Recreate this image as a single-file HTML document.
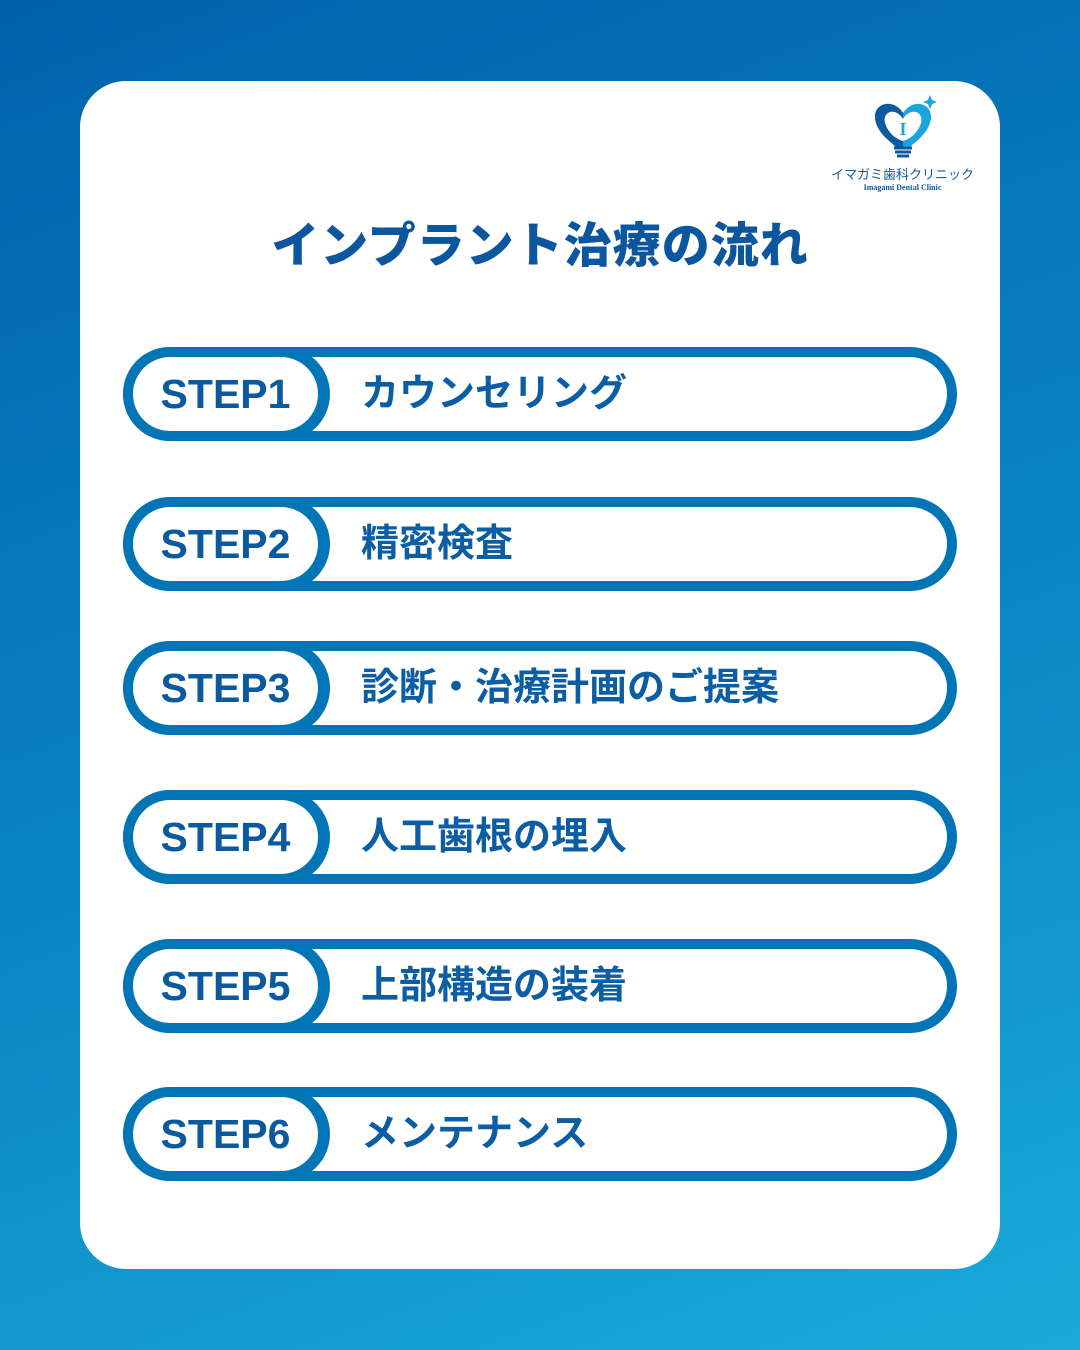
<!DOCTYPE html>
<html><head><meta charset="utf-8"><style>
*{margin:0;padding:0;box-sizing:border-box}
body{width:1080px;height:1350px;overflow:hidden;background:linear-gradient(160deg,#0062aa 0%,#0a86c4 55%,#19abd8 100%);position:relative;font-family:"Liberation Sans","Noto Sans CJK JP",sans-serif}
.card{position:absolute;left:80px;top:81px;width:920px;height:1188px;background:#fff;border-radius:46px}
.title{position:absolute;left:0;width:1080px;top:206px;text-align:center;font-size:48px;font-weight:900;color:#0c56a0;letter-spacing:1px}
.row{position:absolute;left:123px;width:834px;height:94px;background:#0275b6;border-radius:47px}
.row .in{position:absolute;left:10px;top:10px;right:10px;bottom:10px;background:#fff;border-radius:37px}
.row .l{position:absolute;left:0;top:0;width:207px;height:94px;background:#0275b6;border-radius:47px}
.row .l div{position:absolute;left:10px;top:10px;width:185px;height:74px;background:#fff;border-radius:37px;text-align:center;line-height:74px;font-size:41px;font-weight:700;color:#0b5aa0}
.row .t{position:absolute;left:238px;top:0;line-height:94px;font-size:38px;font-weight:700;color:#0b5ea4}
.logo{position:absolute;left:830px;top:95px;width:145px;text-align:center;color:#0d5aa0}
</style></head><body>
<div class="card"></div>
<div class="logo">
<svg width="70" height="66" viewBox="0 0 70 66"><path d="M35 18 C25 2 2 8 8 28 C12 40 22 46 28 52 L42 52 C48 46 58 40 62 28 C68 8 45 2 35 18Z" fill="#1aa6dc"/><path d="M35 18 C25 2 2 8 8 28 C12 40 22 46 28 52 L35 52Z" fill="#0b5aa0"/><path d="M35 24 C28 12 14 16 17 28 C20 38 28 44 35 46 C42 44 50 38 53 28 C56 16 42 12 35 24Z" fill="#fff"/><text x="35" y="40" font-size="18" font-family="Liberation Serif,serif" text-anchor="middle" fill="#1aa6dc" font-weight="700">I</text><g stroke="#0b5aa0" stroke-width="3"><line x1="26" y1="53" x2="44" y2="53"/><line x1="27" y1="57" x2="43" y2="57"/><line x1="29" y1="61" x2="41" y2="61"/></g><path d="M62 0 L64 5 L69 7 L64 9 L62 14 L60 9 L55 7 L60 5Z" fill="#1aa6dc"/></svg>
<div style="font-size:13px;margin-top:-2px">イマガミ歯科クリニック</div>
<div style="font-size:8px;font-family:'Liberation Serif',serif;font-weight:700">Imagami Dental Clinic</div>
</div>
<div class="title">インプラント治療の流れ</div>
<div class="row" style="top:347px"><div class="in"></div><div class="l"><div>STEP1</div></div><div class="t">カウンセリング</div></div>
<div class="row" style="top:497px"><div class="in"></div><div class="l"><div>STEP2</div></div><div class="t">精密検査</div></div>
<div class="row" style="top:641px"><div class="in"></div><div class="l"><div>STEP3</div></div><div class="t">診断・治療計画のご提案</div></div>
<div class="row" style="top:790px"><div class="in"></div><div class="l"><div>STEP4</div></div><div class="t">人工歯根の埋入</div></div>
<div class="row" style="top:939px"><div class="in"></div><div class="l"><div>STEP5</div></div><div class="t">上部構造の装着</div></div>
<div class="row" style="top:1087px"><div class="in"></div><div class="l"><div>STEP6</div></div><div class="t">メンテナンス</div></div>
</body></html>
